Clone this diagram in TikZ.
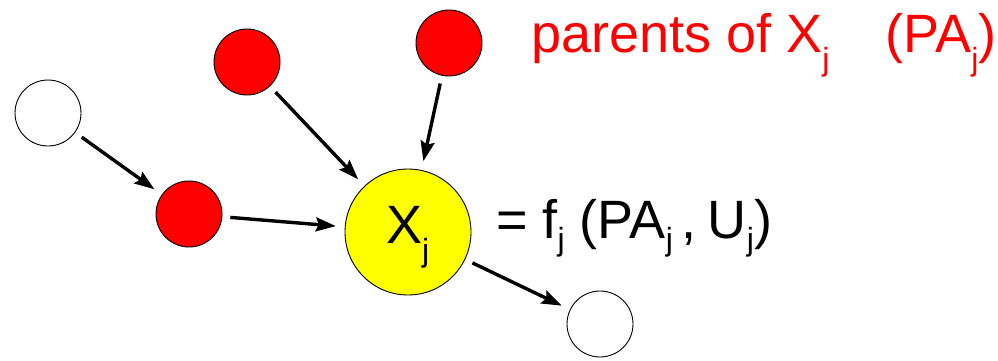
\documentclass[tikz,border=0pt]{standalone}
\usepackage{fontspec}
\setmainfont{Liberation Sans}
\usetikzlibrary{arrows.meta}
\definecolor{pureyellow}{RGB}{255,255,0}
\definecolor{purered}{RGB}{255,0,0}
\newcommand\jsub[1][18pt]{\raisebox{-#1}{\fontsize{32}{32}\selectfont j}}
\tikzset{
  nodecirc/.style={circle,draw=black,line width=0.9pt,inner sep=0pt,minimum size=66pt},
  parent/.style={nodecirc,fill=purered},
  plain/.style={nodecirc,fill=white},
  target/.style={nodecirc,fill=pureyellow,minimum size=126pt},
  arr/.style={line width=3.4pt,-{Stealth[length=20pt,width=14pt,inset=3pt]},shorten <=8pt,shorten >=9pt},
  txt/.style={inner sep=0pt,anchor=base west,font=\fontsize{54}{60}\selectfont}
}
\begin{document}
\begin{tikzpicture}[x=1pt,y=-1pt]
\useasboundingbox (0,0) rectangle (998,360);
\node[plain]  (w1) at (48,113) {};
\node[parent] (r1) at (189,214) {};
\node[parent] (r2) at (247,62) {};
\node[parent] (r3) at (449,43) {};
\node[target] (x)  at (408,232) {};
\node[plain]  (w2) at (600,324) {};
\node[txt] (xl) at (386,243) {X\jsub};
\draw[arr] (w1) -- (r1);
\draw[arr] (r1) -- (x);
\draw[arr] (r2) -- (x);
\draw[arr] (r3) -- (x);
\draw[arr] (x) -- (w2);
\node[txt,text=purered] (title) at (531,52) {parents of X\jsub\hspace{56pt}(PA\jsub)};
\node[txt] (eq) at (496,238) {= f\jsub[12pt] (PA\jsub[12pt]\hspace{9pt},\hspace{11pt}U\jsub[12pt])};
\end{tikzpicture}
\end{document}
